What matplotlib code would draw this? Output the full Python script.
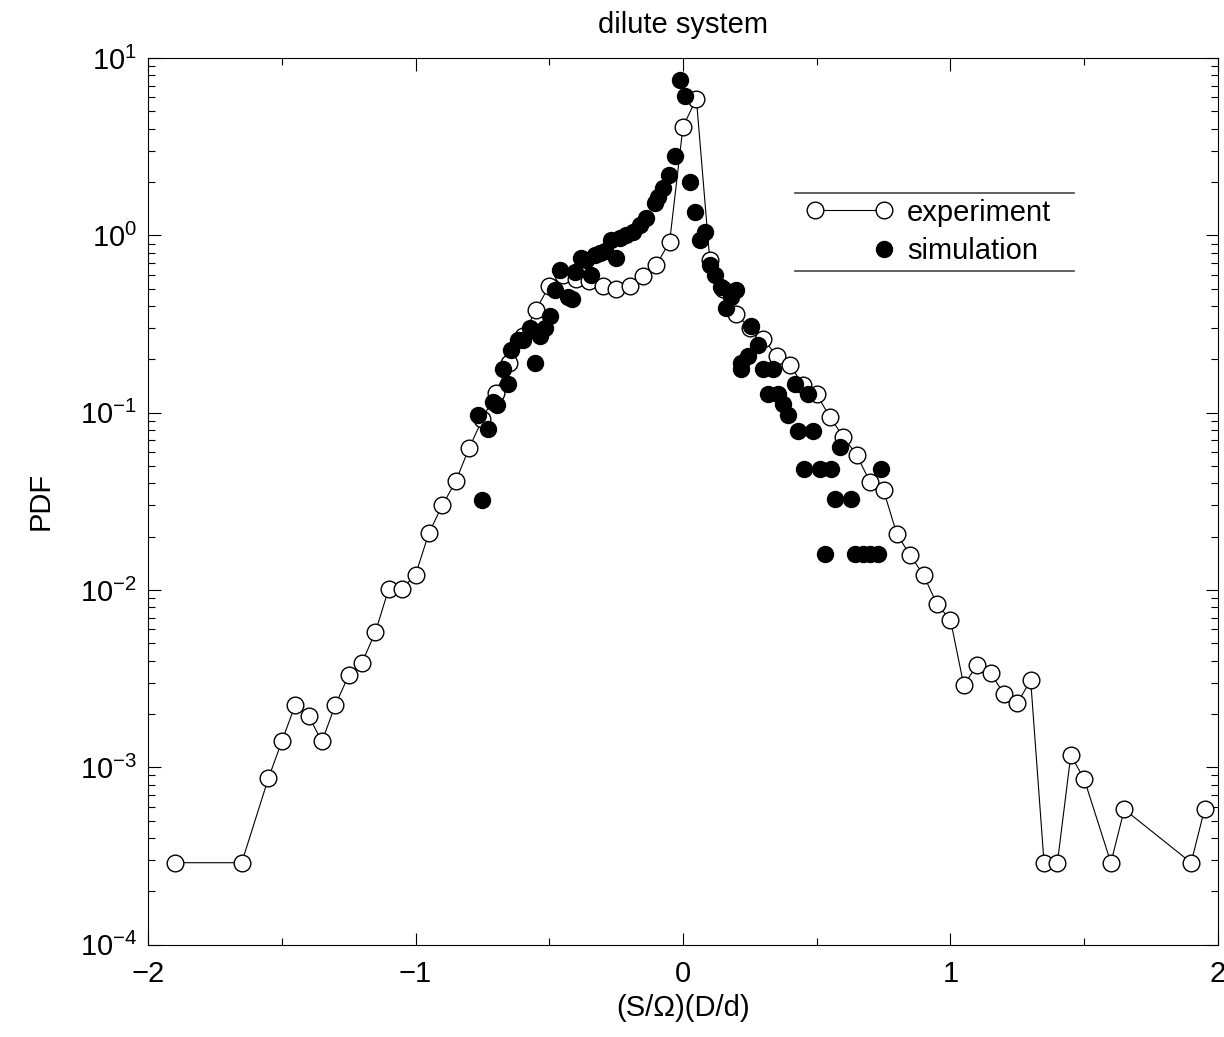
import numpy as np
import matplotlib
matplotlib.use("Agg")
import matplotlib.pyplot as plt
from matplotlib.legend_handler import HandlerLine2D, HandlerLine2DCompound
from matplotlib.lines import Line2D
from matplotlib.ticker import LogLocator, MultipleLocator, NullFormatter

# experiment (open circles joined by a thin line)
exp_x = [-1.90, -1.65, -1.55, -1.50, -1.45, -1.40, -1.35, -1.30, -1.25, -1.20,
         -1.15, -1.10, -1.05, -1.00, -0.95, -0.90, -0.85, -0.80, -0.75, -0.70,
         -0.65, -0.60, -0.55, -0.50, -0.45, -0.40, -0.35, -0.30, -0.25, -0.20,
         -0.15, -0.10, -0.05, 0.00, 0.05, 0.10, 0.15, 0.20, 0.25, 0.30,
         0.35, 0.40, 0.45, 0.50, 0.55, 0.60, 0.65, 0.70, 0.75, 0.80,
         0.85, 0.90, 0.95, 1.00, 1.05, 1.10, 1.15, 1.20, 1.25, 1.30,
         1.35, 1.40, 1.45, 1.50, 1.60, 1.65, 1.90, 1.95]
exp_pdf = [2.9e-4, 2.9e-4, 8.7e-4, 1.4e-3, 2.25e-3, 1.95e-3, 1.4e-3, 2.25e-3, 3.3e-3, 3.9e-3,
           5.8e-3, 1.02e-2, 1.02e-2, 1.22e-2, 2.1e-2, 3.0e-2, 4.1e-2, 6.3e-2, 9.2e-2, 0.13,
           0.19, 0.27, 0.38, 0.52, 0.60, 0.57, 0.55, 0.52, 0.50, 0.52,
           0.59, 0.68, 0.92, 4.1, 5.9, 0.73, 0.50, 0.36, 0.30, 0.26,
           0.21, 0.185, 0.143, 0.127, 0.094, 0.073, 0.0575, 0.0405, 0.0365, 0.0206,
           0.0157, 0.0121, 8.3e-3, 6.8e-3, 2.9e-3, 3.8e-3, 3.4e-3, 2.6e-3, 2.3e-3, 3.1e-3,
           2.9e-4, 2.9e-4, 1.17e-3, 8.6e-4, 2.9e-4, 5.8e-4, 2.9e-4, 5.8e-4]

# simulation (filled dots)
sim_x = [-0.750, -0.766, -0.729, -0.710, -0.695, -0.673, -0.654, -0.643, -0.617, -0.598,
         -0.572, -0.553, -0.535, -0.516, -0.497, -0.478, -0.460, -0.430, -0.415, -0.404,
         -0.381, -0.362, -0.344, -0.329, -0.310, -0.292, -0.269, -0.250, -0.236, -0.213,
         -0.187, -0.161, -0.138, -0.105, -0.093, -0.075, -0.052, -0.030, -0.011, 0.007,
         0.026, 0.045, 0.063, 0.082, 0.101, 0.120, 0.142, 0.161, 0.179, 0.198,
         0.217, 0.217, 0.243, 0.254, 0.280, 0.299, 0.318, 0.336, 0.355, 0.374,
         0.393, 0.417, 0.430, 0.452, 0.467, 0.486, 0.512, 0.531, 0.553, 0.568,
         0.587, 0.628, 0.643, 0.673, 0.699, 0.729, 0.740]
sim_pdf = [0.032, 0.097, 0.081, 0.115, 0.110, 0.176, 0.145, 0.225, 0.256, 0.256,
           0.300, 0.190, 0.270, 0.300, 0.350, 0.490, 0.640, 0.450, 0.440, 0.620,
           0.750, 0.730, 0.600, 0.780, 0.800, 0.820, 0.940, 0.750, 0.970, 1.000,
           1.040, 1.150, 1.260, 1.530, 1.640, 1.860, 2.180, 2.800, 7.500, 6.100,
           1.990, 1.350, 0.940, 1.040, 0.680, 0.600, 0.510, 0.390, 0.450, 0.490,
           0.190, 0.176, 0.210, 0.310, 0.240, 0.176, 0.127, 0.176, 0.127, 0.112,
           0.097, 0.145, 0.079, 0.048, 0.127, 0.079, 0.048, 0.0159, 0.048, 0.0325,
           0.064, 0.0325, 0.0159, 0.0159, 0.0159, 0.0159, 0.048]

plt.rcParams["font.family"] = ["Liberation Sans", "DejaVu Sans"]
plt.rcParams["mathtext.fontset"] = "custom"
plt.rcParams["mathtext.rm"] = "Liberation Sans"
fs = 21

fig = plt.figure(figsize=(12.24, 10.37), dpi=100)
ax = fig.add_axes([0.121, 0.089, 0.874, 0.855])

exp_line, = ax.plot(exp_x, exp_pdf, color="black", linewidth=0.8, marker="o",
                    markersize=12, markerfacecolor="white", markeredgecolor="black",
                    markeredgewidth=1.0, label="experiment", zorder=2)
sim_line, = ax.plot(sim_x, sim_pdf, linestyle="none", marker="o", markersize=11.5,
                    color="black", label="simulation", zorder=3)

ax.set_yscale("log")
ax.set_xlim(-2, 2)
ax.set_ylim(1e-4, 10)
ax.xaxis.set_major_locator(MultipleLocator(1))
ax.xaxis.set_minor_locator(MultipleLocator(0.5))
ax.yaxis.set_major_locator(LogLocator(base=10, numticks=10))
ax.yaxis.set_minor_locator(LogLocator(base=10, subs=np.arange(2, 10), numticks=10))
ax.yaxis.set_minor_formatter(NullFormatter())
ax.tick_params(which="both", direction="in", top=True, right=True, labelsize=fs,
               width=0.8)
ax.tick_params(which="major", length=9, pad=8)
ax.tick_params(axis="x", which="major", pad=11)
ax.tick_params(which="minor", length=5)
for s in ax.spines.values():
    s.set_linewidth(0.8)

ax.set_title("dilute system", fontsize=fs, pad=18)
ax.set_xlabel("(S/\u03a9)(D/d)", fontsize=fs, labelpad=4)
ax.set_ylabel("PDF", fontsize=fs, labelpad=18)


class EndDot(HandlerLine2DCompound):
    # single marker at the right end of the handle, next to the text
    def get_xdata(self, legend, xdescent, ydescent, width, height, fontsize):
        xdata, _ = super().get_xdata(legend, xdescent, ydescent, width, height, fontsize)
        return xdata, np.array([width - xdescent])


leg = ax.legend(handles=[exp_line, sim_line],
                handler_map={exp_line: HandlerLine2D(numpoints=2, marker_pad=0),
                             sim_line: EndDot(numpoints=1)},
                loc="upper left", bbox_to_anchor=(0.618, 0.848), fontsize=fs,
                frameon=False, handlelength=2.35, handletextpad=0.8,
                labelspacing=0.36, borderpad=0.2, borderaxespad=0)

# legend drawn with only a top and a bottom rule, a bit wider than its content
fig.canvas.draw()
bb = leg.get_window_extent()
to_ax = ax.transAxes.inverted()
(x0, y0), (x1, y1) = to_ax.transform([[bb.x0 - 14, bb.y0], [bb.x1 + 17, bb.y1]])
for yy in (y0, y1):
    ax.add_line(Line2D([x0, x1], [yy, yy], transform=ax.transAxes,
                       color="#444444", linewidth=1.2, clip_on=False))

fig.savefig("out.png", dpi=100)
